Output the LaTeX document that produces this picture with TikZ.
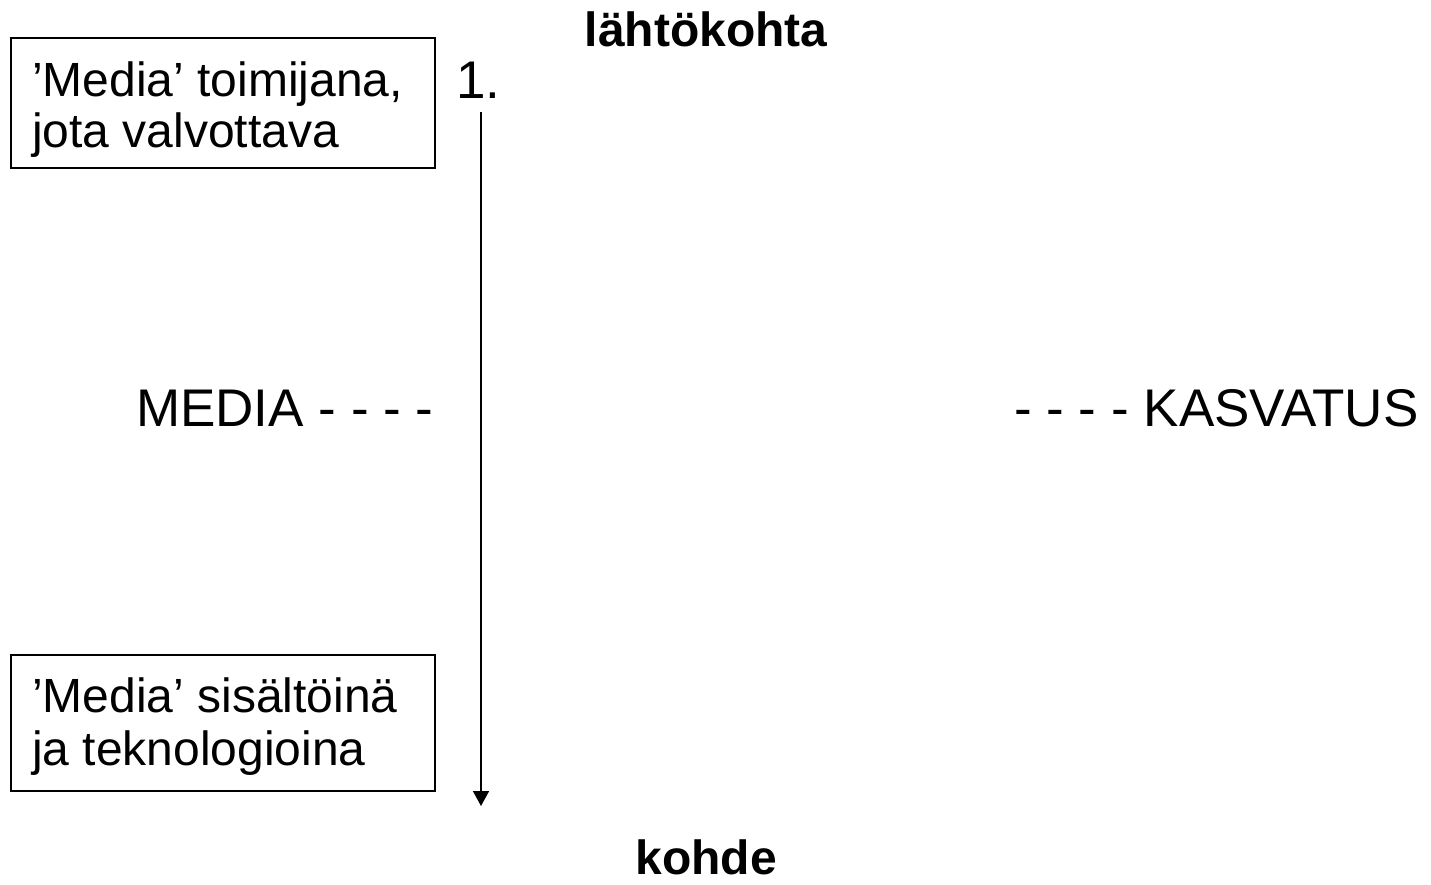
\documentclass[tikz,border=0pt]{standalone}
\usepackage{fontspec}
\setmainfont{Liberation Sans}
\usetikzlibrary{arrows.meta}
\begin{document}
\begin{tikzpicture}[x=1pt,y=-1pt,
  boxtext/.style={font=\fontsize{48}{52}\selectfont, anchor=base west, inner sep=0pt},
  bigtext/.style={font=\fontsize{53}{60}\selectfont, anchor=base west, inner sep=0pt},
  headtext/.style={font=\fontsize{48}{54}\selectfont\bfseries, anchor=base, inner sep=0pt},
  frame/.style={draw=black, line width=1.6pt}]
\useasboundingbox (0,0) rectangle (1431,884);
% boxes
\draw[frame] (11,38) rectangle (435,168);
\draw[frame] (11,655) rectangle (435,791);
\node[boxtext] (t1a) at (32,96) {’Media’ toimijana,};
\node[boxtext] (t1b) at (32,147) {jota valvottava};
\node[boxtext] (t2a) at (32,712) {’Media’ sisältöinä};
\node[boxtext] (t2b) at (32,765) {ja teknologioina};
% headings
\node[headtext] (top) at (706,46) {lähtökohta};
\node[headtext] (bot) at (706,874) {kohde};
% number
\node[bigtext] (num) at (456,98) {1.};
% middle labels
\node[bigtext] (media) at (136,426) {MEDIA - - - -};
\node[bigtext] (kasv) at (1014,426) {- - - - KASVATUS};
% arrow
\coordinate (as) at (481,112);
\coordinate (ae) at (481,806);
\draw[line width=1.6pt, -{Triangle[length=15pt,width=16pt]}] (as) -- (ae);
\end{tikzpicture}
\end{document}
